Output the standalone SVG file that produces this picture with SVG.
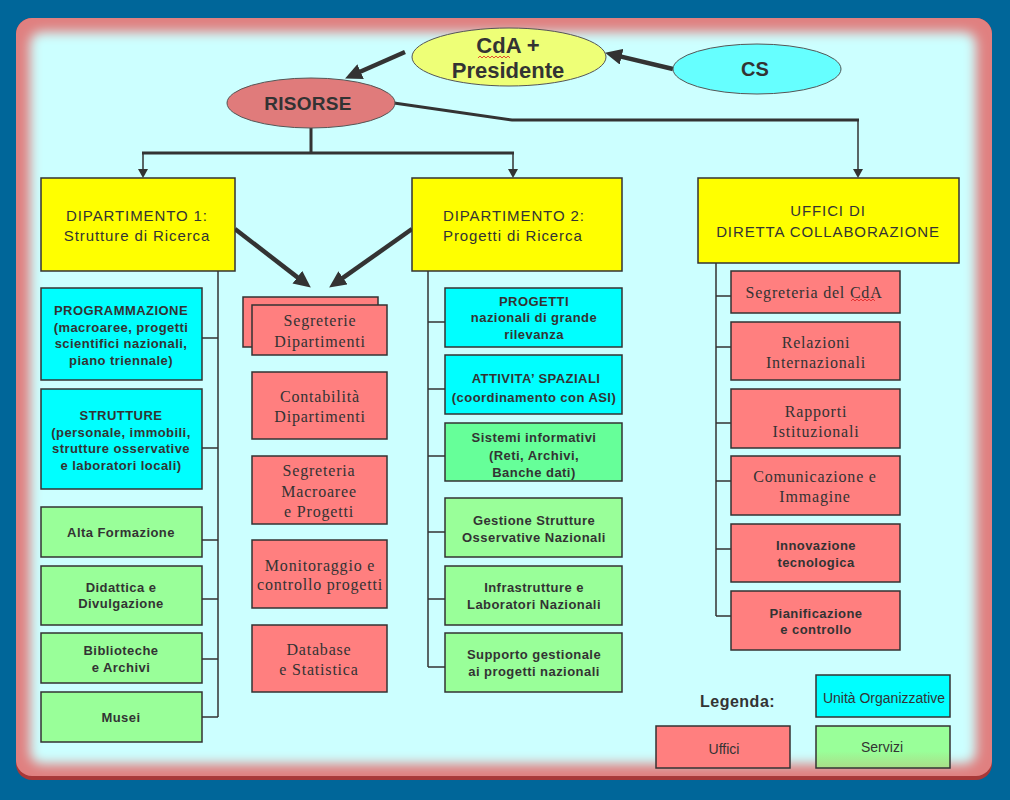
<svg xmlns="http://www.w3.org/2000/svg" width="1010" height="800" viewBox="0 0 1010 800">
<style>
.box{stroke:#333;stroke-width:1.5}
.cy{fill:#00ffff}.gr{fill:#99ff99}.gr2{fill:#66ff99}.pk{fill:#ff7f7f}.ye{fill:#ffff00}
.sb{font-family:"Liberation Sans",Arial,sans-serif;font-weight:bold;font-size:13px;letter-spacing:0.45px;fill:#333;text-anchor:middle}
.sr{font-family:"Liberation Serif","Times New Roman",serif;font-size:16px;letter-spacing:0.8px;fill:#333;text-anchor:middle}
.dp{font-family:"Liberation Sans",Arial,sans-serif;font-size:15px;letter-spacing:0.9px;fill:#333}
.el{font-family:"Liberation Sans",Arial,sans-serif;font-weight:bold;fill:#333;text-anchor:middle}
.lg{font-family:"Liberation Sans",Arial,sans-serif;font-size:14px;fill:#333;text-anchor:middle}
.thin{stroke:#333;stroke-width:1.5;fill:none}
.thick{stroke:#333;stroke-width:3;fill:none}
.big{stroke:#333;stroke-width:4.5;fill:none}
.sq{stroke:#e02020;stroke-width:0.8;fill:none}
</style>
<defs>
<marker id="ah" markerWidth="18" markerHeight="16" refX="8" refY="8" orient="auto" markerUnits="userSpaceOnUse"><path d="M0,0 L17,8 L0,16 z" fill="#333"/></marker>
<marker id="as" markerWidth="10" markerHeight="10" refX="4" refY="5" orient="auto" markerUnits="userSpaceOnUse"><path d="M0,0 L9,5 L0,10 z" fill="#333"/></marker>
<filter id="bl" x="-5%" y="-5%" width="110%" height="110%"><feGaussianBlur stdDeviation="6"/></filter>
<linearGradient id="sv" x1="0" y1="0" x2="0" y2="1"><stop offset="0.6" stop-color="#99ff99"/><stop offset="1" stop-color="#aadd88"/></linearGradient>
</defs>
<rect x="0" y="0" width="1010" height="800" fill="#006699"/>
<rect x="16" y="18" width="976" height="762" rx="16" fill="#a83838"/>
<rect x="16" y="18" width="976" height="758" rx="16" fill="#e08080"/>
<rect x="30" y="32" width="946" height="732" rx="12" fill="#ccffff" filter="url(#bl)"/>

<g id="connectors">
<line class="big" x1="405" y1="52" x2="353.3" y2="74.8" marker-end="url(#ah)"/>
<line class="big" x1="673" y1="69" x2="613.8" y2="54.9" marker-end="url(#ah)"/>
<line class="big" x1="235" y1="229" x2="303.7" y2="282.1" marker-end="url(#ah)"/>
<line class="big" x1="412" y1="229" x2="336.5" y2="282.4" marker-end="url(#ah)"/>
<path class="thick" d="M311,128 V153 M142,153 H514"/>
<path class="thick" d="M394,103 L512,120 H859"/>
<line class="thin" stroke-width="2" x1="143" y1="153" x2="143" y2="173" marker-end="url(#as)"/>
<line class="thin" stroke-width="2" x1="513" y1="153" x2="513" y2="173" marker-end="url(#as)"/>
<line class="thin" stroke-width="2" x1="858" y1="120" x2="858" y2="173" marker-end="url(#as)"/>
<path class="thin" d="M218,271 V717 M202,338 H218 M202,448 H218 M202,540 H218 M202,599 H218 M202,659 H218 M202,717 H218"/>
<path class="thin" d="M428,271 V667 M428,322 H445 M428,389 H445 M428,456 H445 M428,532 H445 M428,599 H445 M428,667 H445"/>
<path class="thin" d="M716,263 V616 M716,296 H731 M716,347 H731 M716,423 H731 M716,481 H731 M716,549 H731 M716,616 H731"/>
</g>

<g id="cda">
<ellipse cx="509" cy="57" rx="97" ry="29" fill="#eeff77" stroke="#555" stroke-width="1"/>
<text class="el" x="508" y="53" font-size="22">CdA +</text>
<text class="el" x="508" y="78" font-size="22">Presidente</text>
<path class="sq" d="M478,58 l2,-2 l2,2 l2,-2 l2,2 l2,-2 l2,2 l2,-2 l2,2 l2,-2 l2,2 l2,-2 l2,2 l2,-2 l2,2 l2,-2 l2,2"/>
</g>
<g id="cs">
<ellipse cx="757" cy="69" rx="84" ry="25" fill="#66ffff" stroke="#555" stroke-width="1"/>
<text class="el" x="755" y="76" font-size="20">CS</text>
</g>
<g id="risorse">
<ellipse cx="311" cy="103" rx="84" ry="25" fill="#e07b7b" stroke="#555" stroke-width="1"/>
<text class="el" x="308" y="110" font-size="19" letter-spacing="0.3">RISORSE</text>
</g>

<g id="dip1">
<rect class="box ye" x="41" y="178" width="194" height="93"/>
<text class="dp" x="137" y="221" text-anchor="middle">DIPARTIMENTO 1:</text>
<text class="dp" x="137" y="241" text-anchor="middle">Strutture di Ricerca</text>
</g>
<g id="dip2">
<rect class="box ye" x="412" y="178" width="210" height="93"/>
<text class="dp" x="443" y="221">DIPARTIMENTO 2:</text>
<text class="dp" x="443" y="241">Progetti di Ricerca</text>
</g>
<g id="uffici">
<rect class="box ye" x="698" y="178" width="261" height="85"/>
<text class="dp" x="828" y="216" text-anchor="middle" letter-spacing="1.1">UFFICI DI</text>
<text class="dp" x="828" y="237" text-anchor="middle" letter-spacing="1.1">DIRETTA COLLABORAZIONE</text>
</g>

<g id="programmazione">
<rect class="box cy" x="41" y="288" width="161" height="92"/>
<text class="sb" x="121" y="315">PROGRAMMAZIONE</text>
<text class="sb" x="121" y="332">(macroaree, progetti</text>
<text class="sb" x="121" y="348">scientifici nazionali,</text>
<text class="sb" x="121" y="365">piano triennale)</text>
</g>
<g id="strutture">
<rect class="box cy" x="41" y="389" width="161" height="100"/>
<text class="sb" x="121" y="420">STRUTTURE</text>
<text class="sb" x="121" y="437">(personale, immobili,</text>
<text class="sb" x="121" y="453">strutture osservative</text>
<text class="sb" x="121" y="470">e laboratori locali)</text>
</g>
<g id="alta-formazione">
<rect class="box gr" x="41" y="507" width="161" height="50"/>
<text class="sb" x="121" y="537">Alta Formazione</text>
</g>
<g id="didattica">
<rect class="box gr" x="41" y="566" width="161" height="59"/>
<text class="sb" x="121" y="592">Didattica e</text>
<text class="sb" x="121" y="608">Divulgazione</text>
</g>
<g id="biblioteche">
<rect class="box gr" x="41" y="633" width="161" height="50"/>
<text class="sb" x="121" y="655">Biblioteche</text>
<text class="sb" x="121" y="672">e Archivi</text>
</g>
<g id="musei">
<rect class="box gr" x="41" y="692" width="161" height="50"/>
<text class="sb" x="121" y="722">Musei</text>
</g>

<g id="segreterie-dipartimenti">
<rect class="box pk" x="243" y="297" width="135" height="50"/>
<rect class="box pk" x="252" y="305" width="135" height="50"/>
<text class="sr" x="320" y="326">Segreterie</text>
<text class="sr" x="320" y="347">Dipartimenti</text>
</g>
<g id="contabilita">
<rect class="box pk" x="252" y="372" width="135" height="67"/>
<text class="sr" x="320" y="402">Contabilità</text>
<text class="sr" x="320" y="422">Dipartimenti</text>
</g>
<g id="segreteria-macroaree">
<rect class="box pk" x="252" y="456" width="135" height="68"/>
<text class="sr" x="319" y="476">Segreteria</text>
<text class="sr" x="319" y="497">Macroaree</text>
<text class="sr" x="319" y="517">e Progetti</text>
</g>
<g id="monitoraggio">
<rect class="box pk" x="252" y="540" width="135" height="68"/>
<text class="sr" x="320" y="571">Monitoraggio e</text>
<text class="sr" x="320" y="590">controllo progetti</text>
</g>
<g id="database">
<rect class="box pk" x="252" y="625" width="135" height="67"/>
<text class="sr" x="319" y="655">Database</text>
<text class="sr" x="319" y="675">e Statistica</text>
</g>

<g id="progetti">
<rect class="box cy" x="445" y="288" width="177" height="59"/>
<text class="sb" x="534" y="306">PROGETTI</text>
<text class="sb" x="534" y="322">nazionali di grande</text>
<text class="sb" x="534" y="339">rilevanza</text>
</g>
<g id="attivita-spaziali">
<rect class="box cy" x="445" y="355" width="177" height="59"/>
<text class="sb" x="536" y="383">ATTIVITA’ SPAZIALI</text>
<text class="sb" x="534" y="402">(coordinamento con ASI)</text>
</g>
<g id="sistemi-informativi">
<rect class="box gr2" x="445" y="423" width="177" height="58"/>
<text class="sb" x="534" y="442">Sistemi informativi</text>
<text class="sb" x="534" y="460">(Reti, Archivi,</text>
<text class="sb" x="534" y="477">Banche dati)</text>
</g>
<g id="gestione-strutture">
<rect class="box gr" x="445" y="498" width="177" height="59"/>
<text class="sb" x="534" y="525">Gestione Strutture</text>
<text class="sb" x="534" y="542">Osservative Nazionali</text>
</g>
<g id="infrastrutture">
<rect class="box gr" x="445" y="566" width="177" height="59"/>
<text class="sb" x="534" y="592">Infrastrutture e</text>
<text class="sb" x="534" y="609">Laboratori Nazionali</text>
</g>
<g id="supporto">
<rect class="box gr" x="445" y="633" width="177" height="59"/>
<text class="sb" x="534" y="659">Supporto gestionale</text>
<text class="sb" x="534" y="676">ai progetti nazionali</text>
</g>

<g id="segreteria-cda">
<rect class="box pk" x="731" y="271" width="169" height="42"/>
<text class="sr" x="814" y="298" letter-spacing="1">Segreteria del CdA</text>
<path class="sq" d="M851,301 l2,-2 l2,2 l2,-2 l2,2 l2,-2 l2,2 l2,-2 l2,2 l2,-2 l2,2 l2,-2 l2,2"/>
</g>
<g id="relazioni">
<rect class="box pk" x="731" y="322" width="169" height="58"/>
<text class="sr" x="816" y="348">Relazioni</text>
<text class="sr" x="816" y="368">Internazionali</text>
</g>
<g id="rapporti">
<rect class="box pk" x="731" y="389" width="169" height="59"/>
<text class="sr" x="816" y="417">Rapporti</text>
<text class="sr" x="816" y="437">Istituzionali</text>
</g>
<g id="comunicazione">
<rect class="box pk" x="731" y="456" width="169" height="59"/>
<text class="sr" x="815" y="482">Comunicazione e</text>
<text class="sr" x="815" y="502">Immagine</text>
</g>
<g id="innovazione">
<rect class="box pk" x="731" y="524" width="169" height="58"/>
<text class="sb" x="816" y="550">Innovazione</text>
<text class="sb" x="816" y="567">tecnologica</text>
</g>
<g id="pianificazione">
<rect class="box pk" x="731" y="591" width="169" height="59"/>
<text class="sb" x="816" y="618">Pianificazione</text>
<text class="sb" x="816" y="634">e controllo</text>
</g>

<g id="legenda">
<text x="700" y="707" font-family="'Liberation Sans',Arial,sans-serif" font-weight="bold" font-size="16" letter-spacing="0.5" fill="#333">Legenda:</text>
<rect class="box cy" x="816" y="675" width="134" height="42"/>
<text class="lg" x="884" y="703">Unità Organizzative</text>
<rect class="box pk" x="656" y="726" width="134" height="42"/>
<text class="lg" x="724" y="754">Uffici</text>
<rect class="box" x="816" y="726" width="134" height="42" fill="url(#sv)"/>
<text class="lg" x="882" y="752">Servizi</text>
</g>
</svg>
